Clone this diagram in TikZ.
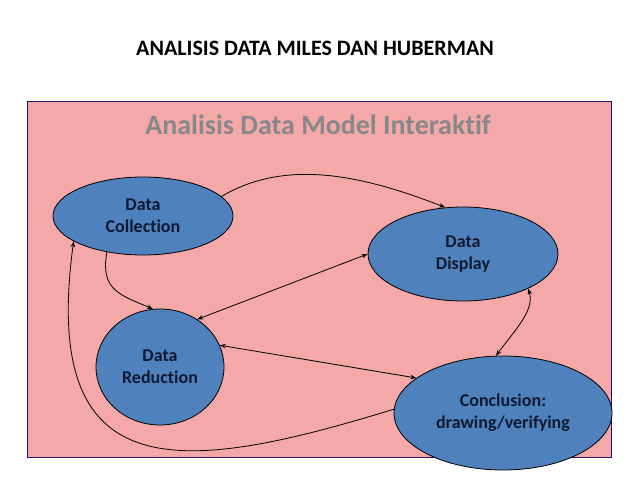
\documentclass[tikz,border=0pt]{standalone}
\usepackage{fontspec}
\setmainfont{Carlito}[RawFeature={-liga;-clig;-dlig;-calt}]
\usetikzlibrary{shapes.geometric,arrows.meta}
\definecolor{bgpink}{RGB}{244,169,168}
\definecolor{nodeblue}{RGB}{79,129,189}
\definecolor{framecol}{RGB}{40,20,100}
\definecolor{subgray}{RGB}{135,135,140}
\definecolor{txtnavy}{RGB}{14,26,50}
\tikzset{
  blob/.style={ellipse, draw=black, line width=0.8pt, fill=nodeblue, inner sep=0pt,
    text=txtnavy, font=\fontsize{18}{22}\selectfont\bfseries, align=center},
  link/.style={line width=0.8pt, -{Stealth[length=6pt,width=4.5pt]}},
  dlink/.style={line width=0.8pt, {Stealth[length=6pt,width=4.5pt]}-{Stealth[length=6pt,width=4.5pt]}}
}
\begin{document}
\begin{tikzpicture}[x=1pt,y=-1pt]
\useasboundingbox (0,0) rectangle (638,479);
\fill[white] (0,0) rectangle (638,479);
\node[font=\fontsize{22}{26}\selectfont\bfseries] (title) at (315,48) {ANALISIS DATA MILES DAN HUBERMAN};
\draw[fill=bgpink, draw=framecol, line width=1pt] (27,101) rectangle (611,457);
\node[font=\fontsize{28}{32}\selectfont\bfseries, text=subgray] (sub) at (318,125) {Analisis Data Model Interakt\kern0pt if};
\node[blob, minimum width=180pt, minimum height=78pt] (col) at (143,216) {Data\\Collection};
\node[blob, minimum width=190pt, minimum height=94pt] (disp) at (463,254) {Data\\Display};
\node[blob, minimum width=128pt, minimum height=116pt] (red) at (160,367) {Data\\Reduction};
\node[blob, minimum width=218pt, minimum height=114pt] (conc) at (503,413) {Conclusion:\\drawing/verifying};
\draw[link] (col.14) .. controls (280,162) and (350,170) .. (disp.111);
\draw[link] (col.225) .. controls (100,290) and (120,295) .. (red.97);
\draw[dlink] (disp.180) -- (red.52);
\draw[dlink] (red.20) -- (conc.158);
\draw[dlink] (conc.97) .. controls (515,330) and (535,310) .. (disp.-28);
\draw[link] (conc.178) .. controls (180,475) and (40,490) .. (col.200);
\end{tikzpicture}
\end{document}
